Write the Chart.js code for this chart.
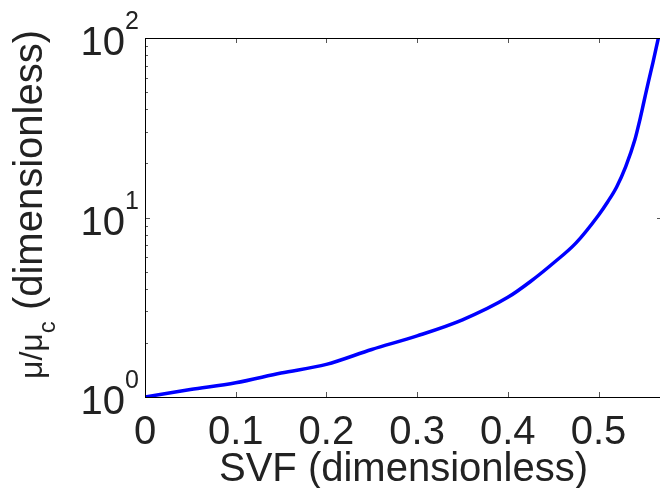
<!DOCTYPE html>
<html>
<head>
<meta charset="utf-8">
<script src="https://cdn.jsdelivr.net/npm/chart.js@4.4.1/dist/chart.umd.min.js"></script>
<style>
  html, body { margin: 0; padding: 0; background: #fff; overflow: hidden; width: 660px; height: 488px; }
  canvas { display: block; }
</style>
</head>
<body>
<canvas id="chart" width="670" height="488"></canvas>
<script>
// --- data ---
const svf = [0, 0.05, 0.1, 0.15, 0.2, 0.25, 0.3, 0.35, 0.4, 0.425, 0.45, 0.475, 0.5, 0.51, 0.52, 0.53, 0.54, 0.545, 0.55, 0.555, 0.56, 0.566];
const relViscosity = [1, 1.10, 1.20, 1.36, 1.52, 1.84, 2.19, 2.69, 3.59, 4.4, 5.56, 7.2, 10.3, 12.2, 14.8, 19.2, 27, 34, 44, 57, 73, 100];
const xTicks = [0, 0.1, 0.2, 0.3, 0.4, 0.5];
const yTicks = [1, 10, 100];
const yMinorTicks = [2, 3, 4, 5, 6, 7, 8, 9, 20, 30, 40, 50, 60, 70, 80, 90];
const xTitle = 'SVF (dimensionless)';
const yTitleParts = ['\u03bc/\u03bc', 'c', ' (dimensionless)'];

const FONT = "'Liberation Sans', Arial, Helvetica, sans-serif";
const TEXT = '#222';

// box, inward tick marks, y labels with exponents, y title with subscript
const axesPlugin = {
    id: 'matlabAxes',
    afterDraw(chart) {
        const { ctx, chartArea: a, scales: { x, y } } = chart;
        ctx.save();

        ctx.strokeStyle = '#555';
        ctx.lineWidth = 1;
        ctx.beginPath();
        xTicks.forEach(v => {
            const px = Math.round(x.getPixelForValue(v)) + 0.5;
            ctx.moveTo(px, a.bottom); ctx.lineTo(px, a.bottom - 5);
            ctx.moveTo(px, a.top); ctx.lineTo(px, a.top + 5);
        });
        yTicks.forEach(v => {
            const py = Math.round(y.getPixelForValue(v)) + 0.5;
            ctx.moveTo(a.left, py); ctx.lineTo(a.left + 5, py);
            ctx.moveTo(a.right, py); ctx.lineTo(a.right - 5, py);
        });
        yMinorTicks.forEach(v => {
            const py = Math.round(y.getPixelForValue(v)) + 0.5;
            ctx.moveTo(a.left, py); ctx.lineTo(a.left + 3, py);
            ctx.moveTo(a.right, py); ctx.lineTo(a.right - 2, py);
        });
        ctx.stroke();

        ctx.strokeStyle = '#000';
        ctx.strokeRect(Math.round(a.left) + 0.5, Math.round(a.top) + 0.5,
            Math.round(a.right - a.left), Math.round(a.bottom - a.top));

        // y tick labels: 10^n
        ctx.fillStyle = TEXT;
        ctx.textBaseline = 'alphabetic';
        ctx.textAlign = 'left';
        yTicks.forEach(v => {
            const py = y.getPixelForValue(v);
            const exp = String(Math.round(Math.log10(v)));
            ctx.font = '40px ' + FONT;
            const wBase = ctx.measureText('10').width;
            ctx.font = '25px ' + FONT;
            const wExp = ctx.measureText(exp).width;
            const x0 = a.left - 6 - wBase - wExp;
            ctx.font = '40px ' + FONT;
            ctx.fillText('10', x0, py + 17);
            ctx.font = '25px ' + FONT;
            ctx.fillText(exp, x0 + wBase, py - 9);
        });

        // y axis title, rotated, with subscript; "(dimensionless)" ends near the top
        ctx.translate(41.5, 0);
        ctx.rotate(-Math.PI / 2);
        ctx.font = '32px ' + FONT;
        const w0 = ctx.measureText(yTitleParts[0]).width;
        ctx.font = '24px ' + FONT;
        const w1 = ctx.measureText(yTitleParts[1]).width;
        ctx.font = '40px ' + FONT;
        const w2 = ctx.measureText(yTitleParts[2]).width;
        let tx = -(30 + w2 + w1 + w0);
        ctx.font = '32px ' + FONT;
        ctx.fillText(yTitleParts[0], tx, 0);
        tx += w0;
        ctx.font = '24px ' + FONT;
        ctx.fillText(yTitleParts[1], tx, 13);
        tx += w1;
        ctx.font = '40px ' + FONT;
        ctx.fillText(yTitleParts[2], tx, 0);

        ctx.restore();
    }
};

new Chart(document.getElementById('chart'), {
    type: 'line',
    data: {
        datasets: [{
            data: svf.map((v, i) => ({ x: v, y: relViscosity[i] })),
            borderColor: '#0000ff',
            borderWidth: 3.5,
            pointRadius: 0,
            fill: false,
            cubicInterpolationMode: 'monotone'
        }]
    },
    options: {
        responsive: false,
        animation: false,
        layout: { padding: { top: 38, right: 8, left: 0, bottom: 0 } },
        plugins: { legend: { display: false }, tooltip: { enabled: false } },
        scales: {
            x: {
                type: 'linear',
                min: 0,
                max: 0.57,
                afterBuildTicks: s => { s.ticks = xTicks.map(v => ({ value: v })); },
                afterFit: s => { s.height = 91; },
                grid: { display: false, drawTicks: false },
                border: { display: false },
                ticks: {
                    font: { family: FONT, size: 40 },
                    color: TEXT,
                    padding: 12,
                    maxRotation: 0,
                    autoSkip: false,
                    callback: v => v === 0 ? '0' : v.toFixed(1)
                },
                title: {
                    display: true,
                    text: xTitle,
                    color: TEXT,
                    font: { family: FONT, size: 40 },
                    padding: { top: 0, bottom: -6 }
                }
            },
            y: {
                type: 'logarithmic',
                min: 1,
                max: 100,
                afterFit: s => { s.width = 145; },
                grid: { display: false, drawTicks: false },
                border: { display: false },
                ticks: { display: false }
            }
        }
    },
    plugins: [axesPlugin]
});
</script>
</body>
</html>
